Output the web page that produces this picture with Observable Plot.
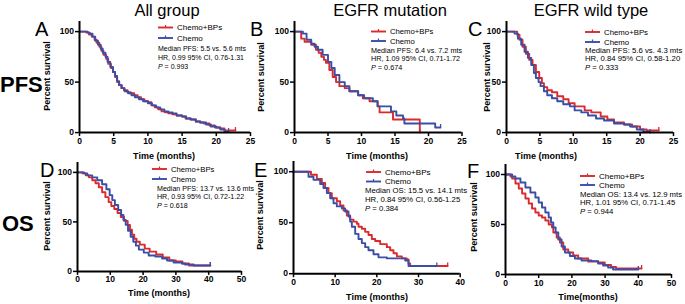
<!DOCTYPE html>
<html><head><meta charset="utf-8">
<script src="https://cdn.jsdelivr.net/npm/d3@7"></script>
<script src="https://cdn.jsdelivr.net/npm/@observablehq/plot@0.6"></script>
<style>
body{margin:0;background:#fff;}
#fig{position:relative;width:685px;height:304px;overflow:hidden;background:#fff;font-family:Arial,"Liberation Sans",sans-serif;}
#fig svg{position:absolute;}
</style></head><body><div id="fig"></div>
<script>
// ---------- data: Kaplan-Meier steps [time (months), percent survival] ----------
const pfsAllBPs = [[0,100],[1.0,99],[1.4,97],[1.8,95],[2.2,92],[2.5,89],[2.9,85],[3.2,81],[3.5,77],[3.9,73],[4.2,68],[4.6,64],[4.9,60],[5.2,55],[5.5,50],[5.8,47],[6.1,44],[6.5,42],[7.0,40],[7.5,39],[8.0,37],[8.5,35],[9.0,33],[9.5,31],[10.0,30],[10.5,27],[11.0,25],[11.5,23],[12.0,21],[12.5,20],[13.0,19],[13.6,18],[14.2,17],[15.0,16],[15.5,14],[16.2,13],[17.0,11],[17.6,10],[18.2,9],[19.0,7],[19.8,5],[20.5,4],[21.2,2],[22.8,2]];
const pfsAllChemo = [[0,100],[1.2,99],[1.5,98],[1.9,95],[2.3,91],[2.7,87],[3.1,83],[3.4,79],[3.8,75],[4.1,70],[4.5,65],[4.9,60],[5.2,56],[5.5,51],[5.8,47],[6.2,44],[6.6,41],[7.1,39],[7.6,37],[8.1,35],[8.7,33],[9.3,31],[10.0,29],[10.6,27],[11.2,25],[11.8,23],[12.4,21],[13.0,20],[13.6,19],[14.2,17],[15.0,16],[15.6,14],[16.3,13],[17.0,11],[17.7,10],[18.5,8],[19.2,6],[20.0,5],[20.6,3],[21.2,1],[21.8,1]];
const pfsMutBPs = [[0,100],[1.0,93],[1.5,90],[2.5,87],[3.2,82],[3.6,79],[4.0,75],[4.4,72],[4.7,69],[5.2,62],[5.7,55],[6.2,50],[6.7,46],[7.5,44],[8.2,41],[9.5,37],[10.2,34],[11.2,31],[12.4,26],[12.7,20],[14.7,13],[18.7,0]];
const pfsMutChemo = [[0,100],[1.25,98],[1.8,92],[2.5,88],[3.0,85],[3.5,82],[4.2,77],[5.0,70],[5.5,64],[6.0,57],[6.7,50],[7.5,46],[8.2,41],[9.5,37],[10.4,34],[11.7,31],[12.4,26],[14.4,21],[15.2,17],[16.2,14],[16.4,9],[21.0,5],[21.8,5]];
const pfsWtBPs = [[0,100],[1.6,97],[1.95,92],[2.4,85],[2.9,78],[3.4,72],[3.9,67],[4.4,60],[4.9,54],[5.3,49],[5.6,45],[6.1,42],[6.8,40],[7.6,36],[8.5,33],[9.3,29],[10.2,26],[11.7,22],[12.7,20],[14.1,16],[15.1,13],[16.1,10],[17.6,8],[18.8,6],[20.0,3],[21.0,2],[22.8,2]];
const pfsWtChemo = [[0,100],[1.2,98],[1.7,93],[2.2,87],[2.7,80],[3.2,74],[3.7,67],[4.1,59],[4.4,54],[4.8,50],[5.1,46],[5.6,41],[6.1,37],[6.8,34],[7.6,31],[8.5,28],[9.5,26],[10.2,22],[11.2,20],[12.2,17],[13.4,14],[14.6,12],[16.1,9],[17.6,8],[18.5,6],[19.5,3],[20.5,1],[21.5,0]];
const osAllBPs = [[0,100],[1.5,99],[2.5,97],[3.5,95],[4.5,92],[5.5,89],[6.5,85],[7.5,80],[8.5,75],[9.5,70],[10.3,66],[11.2,63],[12.2,59],[13.2,55],[14.2,51],[15.3,47],[16.0,42],[16.6,37],[17.3,33],[18.0,30],[19.0,27],[20.5,23],[22.0,20],[24.0,17],[26.0,14],[28.0,11],[30.0,10],[32.0,8],[34.0,6],[40.5,6]];
const osAllChemo = [[0,100],[2,99],[3,97],[4.5,95],[6,92],[7.5,88],[8.8,83],[9.8,77],[10.6,72],[11.4,67],[12.4,62],[13.3,57],[14.0,52],[14.7,47],[15.4,41],[16.2,35],[17.0,30],[17.8,26],[18.7,22],[20.2,19],[21.7,16],[23.7,15],[25.8,13],[27.3,11],[29.3,9],[31.8,8],[32.8,7],[35.4,6],[40.5,6]];
const osMutBPs = [[0,100],[4.2,97],[5.6,93],[6.8,89],[7.6,84],[8.4,79],[9.2,74],[10.4,71],[11.2,67],[12.0,62],[12.8,57],[13.6,53],[14.4,51],[15.2,49],[15.6,46],[16.4,44],[17.2,41],[18.0,38],[18.8,34],[19.6,32],[20.8,29],[22.4,26],[23.2,23],[24.0,20],[24.8,17],[26.0,15],[27.2,14],[27.6,10],[28.0,7.5],[37.0,7.5]];
const osMutChemo = [[0,100],[3.6,95],[4.8,92],[6.4,88],[7.2,84],[8.0,79],[8.8,74],[9.6,69],[10.4,66],[11.6,64],[12.4,61],[13.2,56],[13.6,51],[14.0,46],[14.8,39],[15.6,34],[16.4,30],[17.2,26],[18.0,23],[19.2,19],[20.4,16],[22.4,15],[25.6,15],[26.8,13],[27.6,7.5],[34.4,7.5]];
const osWtBPs = [[0,100],[1.5,98],[2,96],[3,91],[4,86],[5,81],[6,76],[7,71],[8,66],[9,62],[10,59],[11,57],[12,54],[13,50],[14,47],[14.4,42],[15.4,37],[16.4,32],[17.4,25],[18.9,22],[20.4,19],[21.9,16],[24.9,13],[27.9,12],[29.9,9.5],[31.8,7.5],[33.3,6],[41,6]];
const osWtChemo = [[0,100],[2,98],[3,96],[4.5,92],[6,87],[7.5,82],[9,77],[10,72],[11,67],[12,62],[13,57],[13.7,52],[14.4,47],[15.1,42],[15.9,35],[16.9,28],[17.9,22],[19.4,18.5],[20.9,16],[22.9,14],[25.9,13.4],[27.9,11],[29.4,9],[30.9,7],[32.4,5],[40,5]];

const pfsTicks = [0,5,10,15,20,25];
const osTicks50 = [0,10,20,30,40,50];
const osTicks40 = [0,10,20,30,40];
const yTicks = [0,50,100];

const columnTitles = ["All group","EGFR mutation","EGFR wild type"];
const rowLabels = ["PFS","OS"];
const panelLetters = ["A","B","C","D","E","F"];
const seriesNames = ["Chemo+BPs","Chemo"];
const yLabel = "Percent survival";
const xLabels = ["Time (months)","Time (months)","Time (months)","Time (months)","Time (months)","Time(months)"];
const medianLines = ["Median PFS: 5.5 vs. 5.6 mts","Median PFS: 6.4 vs. 7.2 mts","Median PFS: 5.6 vs. 4.3 mts","Median PFS: 13.7 vs. 13.6 mts","Median OS: 15.5 vs. 14.1 mts","Median OS: 13.4 vs. 12.9 mts"];
const hrLines = ["HR, 0.99 95% CI, 0.76-1.31","HR, 1.09 95% CI, 0.71-1.72","HR, 0.84 95% CI, 0.58-1.20","HR, 0.93 95% CI, 0.72-1.22","HR, 0.84 95% CI, 0.56-1.25","HR, 1.01 95% CI, 0.71-1.45"];
const pValues = ["0.993","0.674","0.333","0.618","0.384","0.944"];

// ---------- layout & style ----------
const RED = "#db2a2c", BLUE = "#3a4ea6";
const FONT = "Arial, 'Liberation Sans', sans-serif";
const panels = [
  {bps:pfsAllBPs, chemo:pfsAllChemo, xmax:25, ticks:pfsTicks, x0:79, x1:250, y0:132, y100:31},
  {bps:pfsMutBPs, chemo:pfsMutChemo, xmax:25, ticks:pfsTicks, x0:293.5, x1:461, y0:132, y100:31},
  {bps:pfsWtBPs, chemo:pfsWtChemo, xmax:25, ticks:pfsTicks, x0:506, x1:673, y0:132, y100:31},
  {bps:osAllBPs, chemo:osAllChemo, xmax:50, ticks:osTicks50, x0:77, x1:241, y0:271, y100:172},
  {bps:osMutBPs, chemo:osMutChemo, xmax:40, ticks:osTicks40, x0:293.3, x1:460, y0:273, y100:171},
  {bps:osWtBPs, chemo:osWtChemo, xmax:50, ticks:osTicks50, x0:505, x1:671, y0:274, y100:174}
];
// annotation layout: legend line x, red legend y, blue legend y, stats x, stats first center y, font sizes
const legendLayout = [
  {lx:158, ry:27.5, by:38, sx:158, sy:48.5, lf:8.0, sf:7.0, gap:8.8},
  {lx:371, ry:31.5, by:41, sx:371, sy:50, lf:7.7, sf:7.25, gap:8.6},
  {lx:585, ry:32, by:42, sx:585, sy:50, lf:7.8, sf:7.75, gap:8.7},
  {lx:152, ry:169, by:179, sx:157, sy:188.5, lf:7.7, sf:7.1, gap:8.3},
  {lx:366, ry:172, by:181.5, sx:365, sy:190.5, lf:8.1, sf:7.75, gap:8.7},
  {lx:580, ry:176, by:185, sx:580, sy:194, lf:8.0, sf:7.75, gap:8.4}
];
const letterPos = [[35,36],[250,36],[468,36],[40,177],[254,177],[467,178]];
const yLabelPos = [[46.5,76],[261,77],[487,77],[46.5,216],[260,215],[473.5,217]];
const xLabelPos = [[164,156],[377,156],[546,156],[159,293],[377,297],[588,297]];

const fig = document.getElementById("fig");

panels.forEach(cfg => {
  const ml = 34, mr = 8, mt = 2, mb = 16;
  const ytop = cfg.y0 - 1.1 * (cfg.y0 - cfg.y100);
  const width = cfg.x1 - cfg.x0 + ml + mr;
  const height = cfg.y0 - ytop + mt + mb;
  const lastB = cfg.bps[cfg.bps.length - 1], lastC = cfg.chemo[cfg.chemo.length - 1];
  const chart = Plot.plot({
    width, height, marginLeft: ml, marginRight: mr, marginTop: mt, marginBottom: mb,
    x: {domain: [0, cfg.xmax]},
    y: {domain: [0, 110]},
    style: {background: "transparent", fontFamily: FONT, color: "#000", overflow: "visible"},
    marks: [
      Plot.line(cfg.bps, {x: d => d[0], y: d => d[1], curve: "step-after", stroke: RED, strokeWidth: 1.9}),
      Plot.line(cfg.chemo, {x: d => d[0], y: d => d[1], curve: "step-after", stroke: BLUE, strokeWidth: 1.9}),
      Plot.ruleX([lastB], {x: d => d[0], y1: d => d[1], y2: d => d[1] + 3, stroke: RED, strokeWidth: 1.3}),
      Plot.ruleX([lastC], {x: d => d[0], y1: d => d[1], y2: d => d[1] + 3, stroke: BLUE, strokeWidth: 1.3}),
      Plot.ruleX([0], {y1: 0, y2: 110, stroke: "#000", strokeWidth: 2}),
      Plot.ruleY([0], {x1: 0, x2: cfg.xmax, stroke: "#000", strokeWidth: 2}),
      Plot.axisX(cfg.ticks, {tickSize: 4, tickPadding: 1, fontSize: 8.5, fontWeight: "bold", strokeWidth: 1.5, label: null}),
      Plot.axisY(yTicks, {tickSize: 4, tickPadding: 1.5, fontSize: 8.5, fontWeight: "bold", strokeWidth: 1.5, label: null})
    ]
  });
  chart.style.left = (cfg.x0 - ml) + "px";
  chart.style.top = (ytop - mt) + "px";
  fig.appendChild(chart);
});

// ---------- text overlay ----------
const svg = d3.select(fig).append("svg")
  .attr("width", 685).attr("height", 304)
  .style("left", "0px").style("top", "0px")
  .style("font-family", FONT).style("pointer-events", "none");

const titleX = [167, 390, 591];
columnTitles.forEach((t, i) => svg.append("text").attr("x", titleX[i]).attr("y", 15.5)
  .attr("text-anchor", "middle").attr("font-size", 16.5).text(t));
svg.append("text").attr("x", 0).attr("y", 91.5).attr("font-size", 22).attr("font-weight", "bold").text(rowLabels[0]);
svg.append("text").attr("x", 2).attr("y", 230.5).attr("font-size", 22).attr("font-weight", "bold").text(rowLabels[1]);

panelLetters.forEach((L, i) => svg.append("text").attr("x", letterPos[i][0]).attr("y", letterPos[i][1])
  .attr("font-size", 20).text(L));

yLabelPos.forEach(([cx, cy]) => svg.append("text")
  .attr("transform", `translate(${cx + 3.2},${cy}) rotate(-90)`)
  .attr("text-anchor", "middle").attr("font-size", 9).attr("font-weight", "bold").text(yLabel));
xLabelPos.forEach(([cx, cy], i) => svg.append("text").attr("x", cx).attr("y", cy + 3.3)
  .attr("text-anchor", "middle").attr("font-size", 9).attr("font-weight", "bold").text(xLabels[i]));

legendLayout.forEach((L, i) => {
  [[L.ry, RED, seriesNames[0]], [L.by, BLUE, seriesNames[1]]].forEach(([y, c, name]) => {
    svg.append("line").attr("x1", L.lx).attr("x2", L.lx + 15).attr("y1", y).attr("y2", y).attr("stroke", c).attr("stroke-width", 1.9);
    svg.append("line").attr("x1", L.lx + 7.5).attr("x2", L.lx + 7.5).attr("y1", y - 2.5).attr("y2", y).attr("stroke", c).attr("stroke-width", 1.2);
    svg.append("text").attr("x", L.lx + 19).attr("y", y + L.lf * 0.36).attr("font-size", L.lf).text(name);
  });
  const off = L.sf * 0.36;
  svg.append("text").attr("x", L.sx).attr("y", L.sy + off).attr("font-size", L.sf).text(medianLines[i]);
  svg.append("text").attr("x", L.sx).attr("y", L.sy + L.gap + off).attr("font-size", L.sf).text(hrLines[i]);
  const p = svg.append("text").attr("x", L.sx).attr("y", L.sy + 2 * L.gap + off).attr("font-size", L.sf);
  p.append("tspan").attr("font-style", "italic").text("P");
  p.append("tspan").text(" = " + pValues[i]);
});
</script></body></html>
